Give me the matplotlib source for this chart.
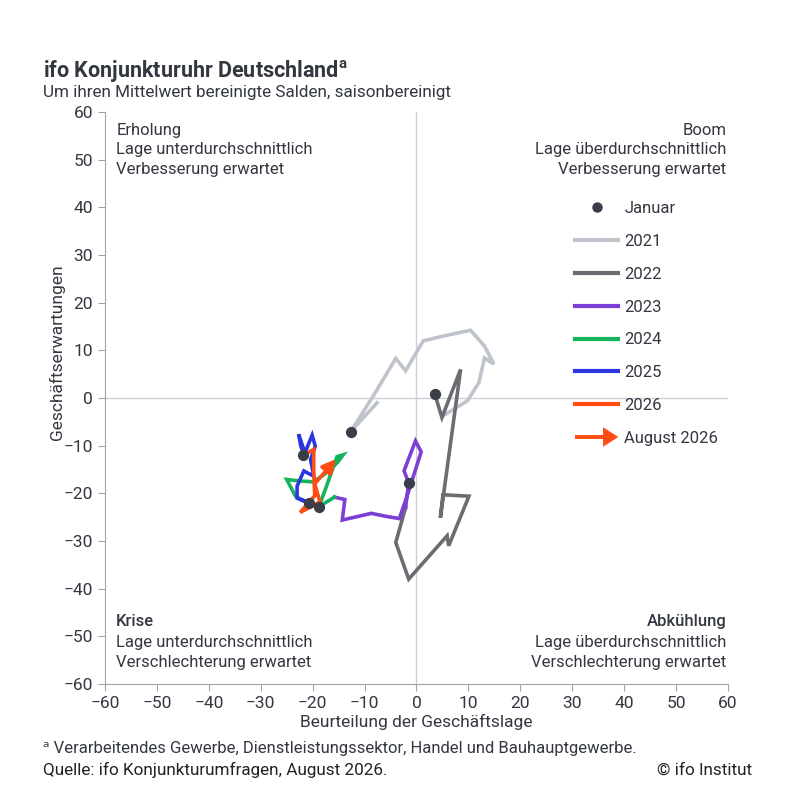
import matplotlib
matplotlib.use("Agg")
import matplotlib.pyplot as plt
import matplotlib.patches as mpatches
from matplotlib.lines import Line2D
from matplotlib.legend_handler import HandlerPatch
from matplotlib import font_manager

names = {f.name for f in font_manager.fontManager.ttflist}
main_font = "Roboto" if "Roboto" in names else "DejaVu Sans"
plt.rcParams["font.family"] = [main_font, "DejaVu Sans"]

# Beurteilung der Geschaeftslage (x) / Geschaeftserwartungen (y)
# each year starts at the previous December, January is the 2nd entry
lage_2021 = [-7.6, -12.7, -8.0, -4.0, -2.1, 1.3, 6.0, 10.4, 13.1, 14.9, 13.1, 12.0, 9.8, 5.0]
erw_2021 = [-1.0, -7.1, 1.0, 8.3, 5.7, 12.0, 13.2, 14.2, 10.9, 7.1, 8.4, 3.2, -0.6, -3.8]

lage_2022 = [3.5, 4.9, 8.5, 4.6, 5.1, 10.1, 6.2, 5.9, -1.5, -4.0, -2.1]
erw_2022 = [0.9, -4.1, 6.0, -25.1, -20.3, -20.6, -31.0, -28.9, -38.0, -30.3, -23.0]

lage_2023 = [-2.1, -1.5, -2.4, -0.2, 0.9, -1.8, -3.3, -6.0, -8.7, -14.3, -13.8, -15.8]
erw_2023 = [-23.0, -17.8, -15.3, -9.0, -11.3, -20.5, -25.3, -24.8, -24.2, -25.6, -21.3, -20.8]

lage_2024 = [-15.8, -18.8, -17.5, -16.2, -15.3, -14.1, -15.2, -17.5, -19.8, -22.5, -25.0, -23.3, -22.0]
erw_2024 = [-20.8, -22.8, -19.0, -15.0, -12.3, -11.9, -13.5, -15.8, -17.6, -17.4, -17.1, -20.6, -21.4]

lage_2025 = [-22.0, -20.8, -23.0, -23.0, -21.7, -19.8, -20.4, -19.5, -20.1, -21.5, -22.7, -22.3, -21.9]
erw_2025 = [-21.4, -22.0, -21.0, -18.5, -15.3, -16.4, -12.9, -10.1, -7.8, -11.5, -7.6, -10.0, -11.3]

lage_2026 = [-21.9, -21.8, -19.8, -19.8, -19.6, -22.4, -18.6, -19.6, -15.5]
erw_2026 = [-11.3, -12.0, -10.8, -15.5, -20.5, -24.0, -21.8, -18.0, -12.8]

years = ["2021", "2022", "2023", "2024", "2025", "2026"]
lage = [lage_2021, lage_2022, lage_2023, lage_2024, lage_2025, lage_2026]
erw = [erw_2021, erw_2022, erw_2023, erw_2024, erw_2025, erw_2026]
colors = ["#BFC3CB", "#6C6C72", "#7B3FD6", "#16B25C", "#2B36DE", "#FF4B14"]
# index of the January point in each list
jan_idx = [1, 0, 1, 1, 1, 1]

text_col = "#333740"
axis_col = "#A0A3AA"

fig = plt.figure(figsize=(8.12, 7.95), dpi=100)
ax = fig.add_axes([105 / 812, 1 - 684 / 795, 623 / 812, 572 / 795])

ax.axhline(0, color="#CDD0D7", lw=1, zorder=1)
ax.axvline(0, color="#CDD0D7", lw=1, zorder=1)

for i, yr in enumerate(years):
    xs, ys = lage[i], erw[i]
    if yr == "2026":
        ax.plot(xs[:-1], ys[:-1], color=colors[i], lw=2.6, solid_joinstyle="miter", zorder=3 + i)
        ax.annotate("", xy=(xs[-1], ys[-1]), xytext=(xs[-2], ys[-2]),
                    arrowprops=dict(arrowstyle="-|>", color=colors[i], lw=2.6,
                                    mutation_scale=20, shrinkA=0, shrinkB=0),
                    zorder=3 + i)
    else:
        ax.plot(xs, ys, color=colors[i], lw=2.6, solid_joinstyle="miter", zorder=3 + i)

ax.scatter([lage[i][jan_idx[i]] for i in range(len(years))],
           [erw[i][jan_idx[i]] for i in range(len(years))],
           s=50, color="#3A3E48", zorder=20)

ax.set_xlim(-60, 60)
ax.set_ylim(-60, 60)
ax.set_xticks(range(-60, 61, 10))
ax.set_yticks(range(-60, 61, 10))
for s in ["top", "right"]:
    ax.spines[s].set_visible(False)
for s in ["left", "bottom"]:
    ax.spines[s].set_color(axis_col)
ax.tick_params(colors=axis_col, length=5, labelcolor=text_col, labelsize=12.5)

fig.text(416 / 812, 1 - 722 / 795, "Beurteilung der Geschäftslage", ha="center", va="center",
         fontsize=12.5, color=text_col)
fig.text(57 / 812, 1 - 352 / 795, "Geschäftserwartungen", ha="center", va="center",
         rotation=90, fontsize=12.5, color=text_col)

# quadrant labels
q = dict(fontsize=12, color=text_col, linespacing=1.38, transform=ax.transAxes)
ax.text(0.018, 0.981, "Erholung\nLage unterdurchschnittlich\nVerbesserung erwartet", ha="left", va="top", **q)
ax.text(0.997, 0.981, "Boom\nLage überdurchschnittlich\nVerbesserung erwartet", ha="right", va="top", **q)
ax.text(0.018, 0.1224, "Krise", ha="left", va="top", fontweight="medium", **q)
ax.text(0.018, 0.0857, "Lage unterdurchschnittlich\nVerschlechterung erwartet", ha="left", va="top", **q)
ax.text(0.997, 0.1224, "Abkühlung", ha="right", va="top", fontweight="medium", **q)
ax.text(0.997, 0.0857, "Lage überdurchschnittlich\nVerschlechterung erwartet", ha="right", va="top", **q)

# legend
def make_arrow(legend, orig_handle, xdescent, ydescent, width, height, fontsize):
    return mpatches.FancyArrow(0, height / 2, width, 0, width=2.8, head_width=14,
                               head_length=11, length_includes_head=True)

handles = [Line2D([], [], marker="o", ls="none", color="#3A3E48", markersize=6.5)]
handles += [Line2D([], [], color=c, lw=3) for c in colors]
handles.append(mpatches.FancyArrow(0, 0, 1, 0, facecolor=colors[-1], edgecolor="none", lw=0))
labels = ["Januar"] + years + ["August 2026"]
leg = ax.legend(handles, labels, loc="upper left", bbox_to_anchor=(575 / 812, 1 - 201 / 795),
                bbox_transform=fig.transFigure, frameon=False, fontsize=12,
                handlelength=2.6, handletextpad=0.35, labelspacing=1.07, borderpad=0,
                borderaxespad=0, handler_map={mpatches.FancyArrow: HandlerPatch(patch_func=make_arrow)})
for t in leg.get_texts():
    t.set_color(text_col)

# header and footer
fig.text(43 / 812, 1 - 71 / 795, "ifo Konjunkturuhr Deutschland$^\\mathregular{a}$", ha="left", va="center",
         fontsize=15.5, fontweight="bold", color=text_col)
fig.text(43 / 812, 1 - 92 / 795, "Um ihren Mittelwert bereinigte Salden, saisonbereinigt", ha="left",
         va="center", fontsize=12.3, color=text_col)
fig.text(43 / 812, 1 - 749 / 795, "ᵃ Verarbeitendes Gewerbe, Dienstleistungssektor, Handel und Bauhauptgewerbe.",
         ha="left", va="center", fontsize=12, color=text_col)
fig.text(43 / 812, 1 - 770 / 795, "Quelle: ifo Konjunkturumfragen, August 2026.", ha="left", va="center",
         fontsize=12.3, color="#222222")
fig.text(752 / 812, 1 - 770 / 795, "© ifo Institut", ha="right", va="center",
         fontsize=12.3, color="#222222")

fig.savefig("out.png", dpi=100)
